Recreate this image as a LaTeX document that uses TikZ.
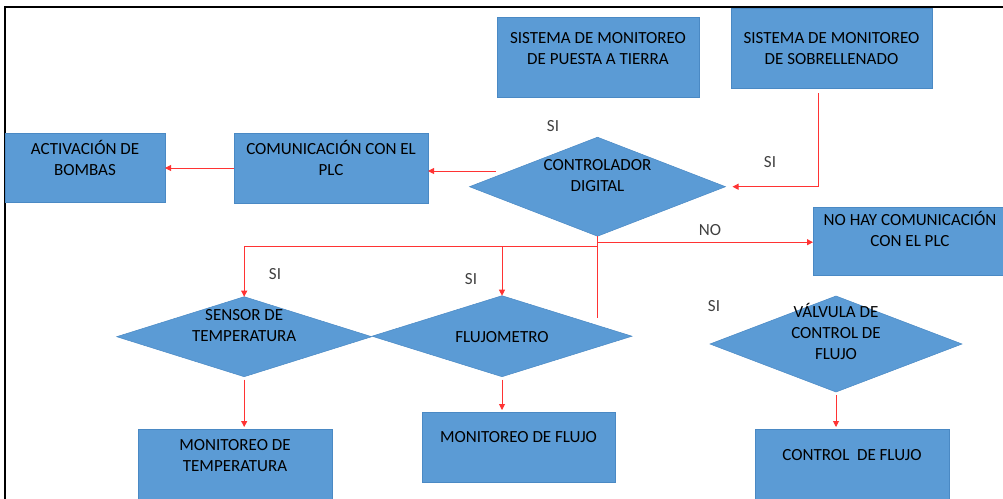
\documentclass[tikz,border=0pt]{standalone}
\usepackage{fontspec}
\setmainfont{Carlito}
\usetikzlibrary{shapes.geometric,arrows.meta}
\definecolor{boxblue}{HTML}{5B9BD5}
\definecolor{boxline}{HTML}{4A89C4}
\definecolor{linkred}{HTML}{FF3333}
\definecolor{notegray}{HTML}{404040}
\newcommand{\lblstrut}{\rule{0pt}{15pt}}

\begin{document}
\begin{tikzpicture}[x=1pt, y=-1pt,
    box/.style={rectangle, fill=boxblue, draw=boxline, line width=0.5pt, inner sep=0pt, outer sep=0pt},
    decision/.style={diamond, fill=boxblue, draw=boxline, line width=0.5pt, inner sep=0pt, outer sep=0pt},
    txt/.style={anchor=north, inner sep=0pt, align=center, text=black, font=\fontsize{17}{21}\selectfont},
    note/.style={inner sep=0pt, text=notegray, font=\fontsize{17}{21}\selectfont},
    link/.style={draw=linkred, line width=0.9pt},
    flow/.style={link, -{Triangle[length=6pt,width=6pt]}}]
    % Page area (0 < x < 1003, 0 < y < 498)
    \useasboundingbox (0,0) rectangle (1003,498);
    \clip (0,0) rectangle (1003,498);

    % Black frame, only left and top edges visible
    \draw[line width=2.5pt] (5,505) |- (1010,7);

    % Top row: monitoring systems
    \node[box, minimum width=202pt, minimum height=80pt,
        label={[txt, yshift=-11.3pt]north:{\lblstrut SISTEMA DE MONITOREO\\DE PUESTA A TIERRA}}] (puesta) at (598,57) {};
    \node[box, minimum width=201pt, minimum height=80pt,
        label={[txt, yshift=-20.3pt]north:{\lblstrut SISTEMA DE MONITOREO\\DE SOBRELLENADO}}] (sobre) at (831.5,48) {};

    % Controller and PLC row
    \node[decision, minimum width=256pt, minimum height=99pt,
        label={[txt, yshift=-18.5pt]north:{\lblstrut CONTROLADOR\\DIGITAL}}] (ctrl) at (597.5,186.7) {};
    \node[box, minimum width=194pt, minimum height=70pt,
        label={[txt, yshift=-6pt]north:{\lblstrut COMUNICACIÓN CON EL\\PLC}}] (comun) at (331,168) {};
    \node[box, minimum width=160pt, minimum height=69pt,
        label={[txt, yshift=-6pt]north:{\lblstrut ACTIVACIÓN DE\\BOMBAS}}] (activ) at (85,167.5) {};
    \node[box, minimum width=194pt, minimum height=68pt,
        label={[txt, yshift=-3pt]north:{\lblstrut NO HAY COMUNICACIÓN\\CON EL PLC}}] (nohay) at (910,241) {};

    % Sensors
    \node[decision, minimum width=255pt, minimum height=80pt,
        label={[txt, yshift=-9pt]north:{\lblstrut SENSOR DE\\TEMPERATURA}}] (sensor) at (244.2,336.7) {};
    \node[decision, minimum width=260pt, minimum height=81pt,
        label={[txt, yshift=-31.6pt]north:{\lblstrut FLUJOMETRO}}] (flujo) at (502,336.2) {};
    \node[decision, minimum width=252pt, minimum height=96pt,
        label={[txt, yshift=-6.3pt]north:{\lblstrut VÁLVULA DE\\CONTROL DE\\FLUJO}}] (valv) at (836,344) {};

    % Bottom row: results
    \node[box, minimum width=194pt, minimum height=70pt,
        label={[txt, yshift=-6pt]north:{\lblstrut MONITOREO DE\\TEMPERATURA}}] (montemp) at (235,464) {};
    \node[box, minimum width=193pt, minimum height=70pt,
        label={[txt, yshift=-15pt]north:{\lblstrut MONITOREO DE FLUJO}}] (monflujo) at (518.5,447) {};
    \node[box, minimum width=194pt, minimum height=70pt,
        label={[txt, yshift=-16pt]north:{\lblstrut CONTROL\ \ DE FLUJO}}] (control) at (852,464) {};

    % Free ends of the red lines
    \coordinate (ctrlin) at (496,171);
    \coordinate (stemend) at (597.5,318);
    \coordinate (split) at ([yshift=-10.5pt]ctrl.south);

    % Connectors
    \draw[flow] ([xshift=-13.5pt, yshift=-5pt]sobre.south) |- ([xshift=7pt]ctrl.east);
    \draw[flow] (ctrlin) -- (ctrlin -| comun.east);
    \draw[flow] (comun.west) -- (comun.west -| activ.east);
    \draw[link] (ctrl.south) -- (stemend);
    \draw[flow] ([yshift=-6pt]ctrl.south) -- ([yshift=-6pt]ctrl.south -| nohay.west);
    \draw[flow] (split) -| (sensor.north);
    \draw[flow] (split -| flujo.north) -- (flujo.north);
    \draw[flow, shorten <=3pt, shorten >=2pt] (sensor.south) -- (sensor.south |- montemp.north);
    \draw[flow, shorten <=3pt, shorten >=2pt] (flujo.south) -- (flujo.south |- monflujo.north);
    \draw[flow, shorten <=3pt, shorten >=2pt] (valv.south) -- (valv.south |- control.north);

    % Branch labels
    \node[note] (si1) at (553,126) {SI};
    \node[note] (si2) at (770,162) {SI};
    \node[note] (no1) at (710,230) {NO};
    \node[note] (si3) at (275,274) {SI};
    \node[note] (si4) at (471,279) {SI};
    \node[note] (si5) at (714,306) {SI};
\end{tikzpicture}
\end{document}
